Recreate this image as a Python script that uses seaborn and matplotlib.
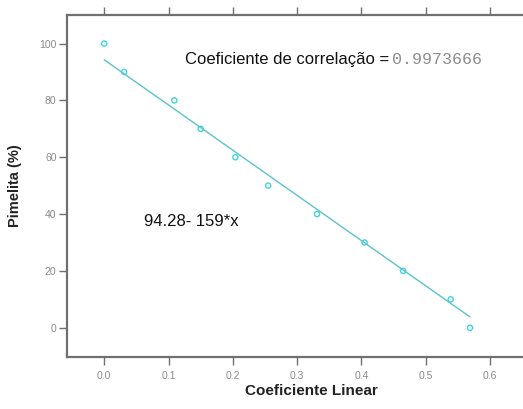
import numpy as np
import pandas as pd
import matplotlib
matplotlib.use("Agg")
import matplotlib.pyplot as plt
import seaborn as sns

coef_linear = [0.0, 0.031, 0.109, 0.150, 0.204, 0.255, 0.331, 0.405, 0.465, 0.539, 0.569]
pimelita = [100, 90, 80, 70, 60, 50, 40, 30, 20, 10, 0]
fit_intercept = 94.28
fit_slope = -159.0
x_ticks = [0.0, 0.1, 0.2, 0.3, 0.4, 0.5, 0.6]
y_ticks = [0, 20, 40, 60, 80, 100]

df = pd.DataFrame({"x": coef_linear, "y": pimelita})
x_fit = np.array([min(coef_linear), max(coef_linear)])
df_fit = pd.DataFrame({"x": x_fit, "y": fit_intercept + fit_slope * x_fit})

sns.set_style("white")
plt.rcParams['font.family'] = ['Liberation Sans', 'DejaVu Sans']

fig = plt.figure(figsize=(5.23, 4.09), dpi=100)
ax = fig.add_axes([0.128, 0.127, 0.933, 0.836])

sns.lineplot(data=df_fit, x="x", y="y", ax=ax, color="#5bc3cc", lw=1.0)
sns.scatterplot(data=df, x="x", y="y", ax=ax, s=14, marker="o",
                facecolors="none", edgecolor="#3fd6df", linewidth=1.0)

ax.set_xlim(-0.058, 0.701)
ax.set_ylim(-10.3, 110)
ax.set_xticks(x_ticks)
ax.set_xticklabels([f"{t:.1f}" for t in x_ticks])
ax.set_yticks(y_ticks)

for s in ["left", "bottom", "top", "right"]:
    ax.spines[s].set_color("#707070")
    ax.spines[s].set_linewidth(1.6)

ax.tick_params(axis="both", direction="out", length=6, width=1, color="#707070",
               labelsize=7.5, labelcolor="#8a8a8a")
ax.tick_params(axis="x", top=True, bottom=True, labeltop=False, pad=4)
ax.tick_params(axis="y", left=True, pad=1.5)

ax.set_xlabel("Coeficiente Linear", fontsize=11, fontweight="bold", color="#222222", labelpad=2)
ax.set_ylabel("Pimelita (%)", fontsize=10.5, fontweight="bold", color="#222222", labelpad=12)

ax.text(0.126, 94.3, "Coeficiente de correlação =", fontsize=12, color="#111111",
        va="center", ha="left")
ax.text(0.448, 94.3, "0.9973666", fontsize=12, color="#8c8c8c", family="Liberation Mono",
        va="center", ha="left")
ax.text(0.062, 37.5, "94.28- 159*x", fontsize=12, color="#111111", va="center", ha="left")

fig.savefig("out.png", dpi=100)
